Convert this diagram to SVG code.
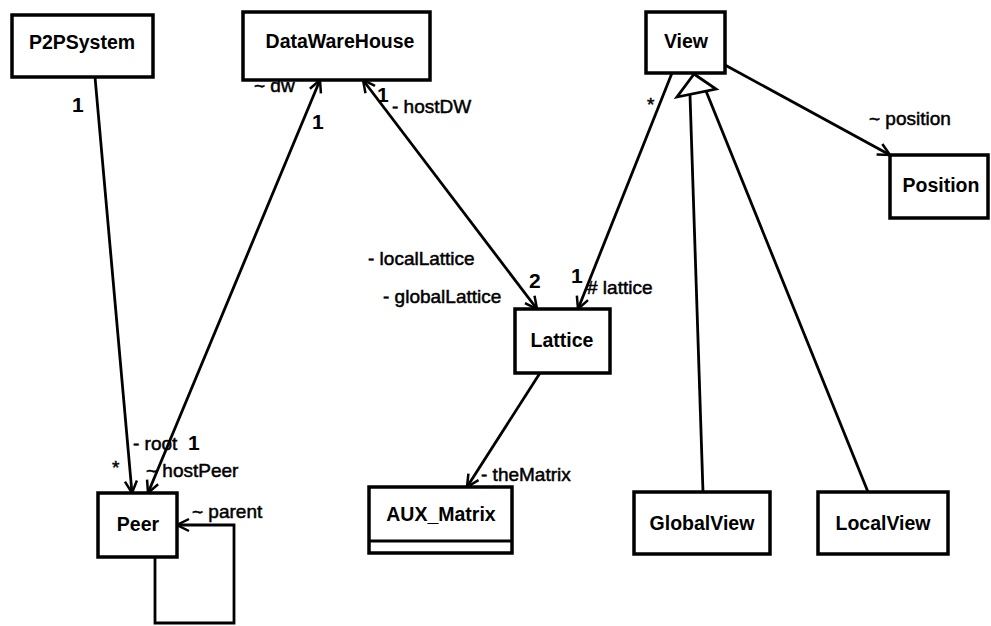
<svg xmlns="http://www.w3.org/2000/svg" width="991" height="626" viewBox="0 0 991 626">
<style>
.box{fill:#fff;stroke:#000;stroke-width:3.5}
.name{font-family:"Liberation Sans",Arial,sans-serif;font-weight:bold;font-size:19.5px;text-anchor:middle;fill:#000}
.lbl{font-family:"Liberation Sans",Arial,sans-serif;font-size:19px;fill:#000;stroke:#000;stroke-width:0.5}
.mul{font-family:"Liberation Sans",Arial,sans-serif;font-weight:bold;font-size:21px;fill:#000}
.ln{fill:none;stroke:#000;stroke-width:2.8}
</style>
<defs>
<marker id="open" viewBox="-14 -8 16 16" refX="0" refY="0" markerWidth="16" markerHeight="16" markerUnits="userSpaceOnUse" orient="auto-start-reverse">
<path d="M-12,-6 L0,0 L-12,6" fill="none" stroke="#000" stroke-width="2.5"/>
</marker>
</defs>
<rect width="991" height="626" fill="#fff"/>
<g id="connectors">
<line class="ln" x1="95" y1="77" x2="132" y2="493" marker-end="url(#open)"/>
<line class="ln" x1="148" y1="493" x2="320" y2="80" marker-start="url(#open)" marker-end="url(#open)"/>
<line class="ln" x1="363" y1="80" x2="537" y2="309" marker-start="url(#open)" marker-end="url(#open)"/>
<line class="ln" x1="672" y1="73" x2="578" y2="309" marker-end="url(#open)"/>
<line class="ln" x1="725" y1="65" x2="890" y2="155" marker-end="url(#open)"/>
<line class="ln" x1="540" y1="373" x2="467" y2="487" marker-end="url(#open)"/>
<polyline class="ln" points="155,557 155,623 234,623 234,525 177,525" marker-end="url(#open)"/>
<line class="ln" x1="703" y1="492" x2="690" y2="95"/>
<line class="ln" x1="868" y1="492" x2="706" y2="91"/>
<polygon points="694,74 677,97 716,89" fill="#fff" stroke="#000" stroke-width="2.8"/>
<text class="mul" x="72" y="112">1</text>
<text class="lbl" x="112" y="474">*</text>
<text class="lbl" x="133" y="450">- root</text>
<text class="mul" x="188" y="450">1</text>
<text class="lbl" x="146" y="477">~ hostPeer</text>
<text class="lbl" x="192" y="518">~ parent</text>
<text class="lbl" x="254" y="92">~ dw</text>
<text class="mul" x="312" y="129">1</text>
<text class="mul" x="377" y="102">1</text>
<text class="lbl" x="392" y="113">- hostDW</text>
<text class="lbl" x="368" y="265">- localLattice</text>
<text class="lbl" x="383" y="303">- globalLattice</text>
<text class="mul" x="529" y="288">2</text>
<text class="mul" x="571" y="283">1</text>
<text class="lbl" x="587" y="294"># lattice</text>
<text class="lbl" x="647" y="111">*</text>
<text class="lbl" x="869" y="125">~ position</text>
<text class="lbl" x="481" y="481">- theMatrix</text>
</g>
<g id="P2PSystem"><rect class="box" x="12" y="15" width="141" height="62"/><text class="name" x="82" y="49">P2PSystem</text></g>
<g id="DataWareHouse"><rect class="box" x="243" y="12" width="187" height="68"/><text class="name" x="340" y="48">DataWareHouse</text></g>
<g id="View"><rect class="box" x="646" y="12" width="79" height="61"/><text class="name" x="686" y="48">View</text></g>
<g id="Position"><rect class="box" x="890" y="155" width="98" height="63"/><text class="name" x="941" y="192">Position</text></g>
<g id="Lattice"><rect class="box" x="515" y="309" width="95" height="64"/><text class="name" x="562" y="347">Lattice</text></g>
<g id="AUX_Matrix"><rect class="box" x="369" y="487" width="143" height="66"/><line x1="369" y1="541" x2="512" y2="541" stroke="#000" stroke-width="3"/><text class="name" x="441" y="521">AUX_Matrix</text></g>
<g id="Peer"><rect class="box" x="98" y="493" width="79" height="64"/><text class="name" x="138" y="531">Peer</text></g>
<g id="GlobalView"><rect class="box" x="634" y="492" width="136" height="62"/><text class="name" x="702" y="530">GlobalView</text></g>
<g id="LocalView"><rect class="box" x="818" y="492" width="130" height="62"/><text class="name" x="883" y="530">LocalView</text></g>
</svg>
